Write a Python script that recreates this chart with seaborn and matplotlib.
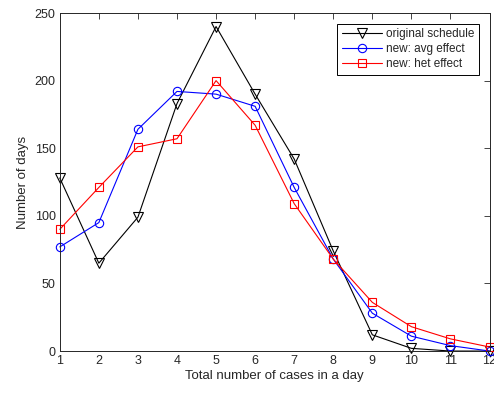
import pandas as pd
import matplotlib.pyplot as plt
import seaborn as sns

# dados
cases = [1, 2, 3, 4, 5, 6, 7, 8, 9, 10, 11, 12]
original = [128, 65, 99, 183, 240, 190, 142, 74, 12, 2, 0, 0]
avg_effect = [77, 95, 164, 192, 190, 181, 121, 68, 28, 11, 4, 0]
het_effect = [90, 121, 151, 157, 200, 167, 109, 68, 36, 18, 9, 3]

df = pd.DataFrame({'cases': cases, 'original': original,
                   'avg': avg_effect, 'het': het_effect})

sns.set_style('white')
plt.rcParams['font.family'] = ['Liberation Sans', 'DejaVu Sans']

fig = plt.figure(figsize=(4.94, 3.94), dpi=100)
ax = fig.add_axes([0.121, 0.109, 0.870, 0.858])

series = [('original', 'original schedule', 'black', 'v'),
          ('avg', 'new: avg effect', 'blue', 'o'),
          ('het', 'new: het effect', 'red', 's')]
for col, label, color, marker in series:
    sns.lineplot(data=df, x='cases', y=col, ax=ax, color=color, marker=marker,
                 markersize=6.5 if marker == 'v' else 6, markerfacecolor='none',
                 markeredgecolor=color, markeredgewidth=0.8, linewidth=0.8,
                 label=label, clip_on=False)

ax.set_xlim(1, 12)
ax.set_ylim(0, 250)
ax.set_xticks(cases)
ax.set_yticks(range(0, 251, 50))
ax.set_xlabel('Total number of cases in a day', fontsize=9.5, color='#262626', labelpad=2)
ax.set_ylabel('Number of days', fontsize=9.5, color='#262626', labelpad=4)
ax.tick_params(direction='in', top=True, right=True, length=4, width=0.6,
               labelsize=9, colors='#262626', pad=3)
for s in ax.spines.values():
    s.set_visible(True)
    s.set_color('#262626')
    s.set_linewidth(0.7)

leg = ax.legend(loc='upper right', fontsize=8.5, frameon=True, fancybox=False,
                edgecolor='black', framealpha=1, handlelength=3.4,
                borderaxespad=0.9, borderpad=0.4, labelspacing=0.25, handletextpad=0.3)
leg.get_frame().set_linewidth(0.7)

plt.savefig('out.png', dpi=100)
